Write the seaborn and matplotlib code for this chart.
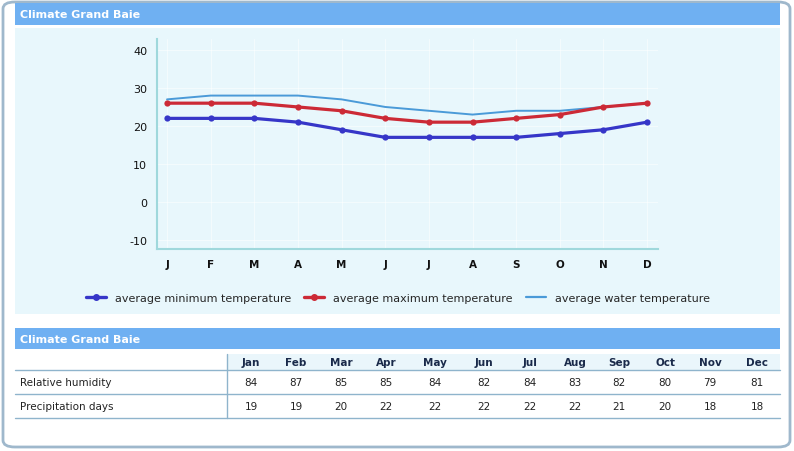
import matplotlib
matplotlib.use('Agg')
import matplotlib.pyplot as plt
from matplotlib.patches import Rectangle, FancyBboxPatch
from matplotlib.lines import Line2D
import pandas as pd
import seaborn as sns

month_letters = ['J', 'F', 'M', 'A', 'M', 'J', 'J', 'A', 'S', 'O', 'N', 'D']
month_names = ['Jan', 'Feb', 'Mar', 'Apr', 'May', 'Jun', 'Jul', 'Aug', 'Sep', 'Oct', 'Nov', 'Dec']
temp_min = [22, 22, 22, 21, 19, 17, 17, 17, 17, 18, 19, 21]
temp_max = [26, 26, 26, 25, 24, 22, 21, 21, 22, 23, 25, 26]
temp_water = [27, 28, 28, 28, 27, 25, 24, 23, 24, 24, 25, 26]
humidity = [84, 87, 85, 85, 84, 82, 84, 83, 82, 80, 79, 81]
precip_days = [19, 19, 20, 22, 22, 22, 22, 22, 21, 20, 18, 18]
y_ticks = [-10, 0, 10, 20, 30, 40]

title = 'Climate Grand Baie'
series_labels = ['average minimum temperature', 'average maximum temperature',
                 'average water temperature']
row_labels = ['Relative humidity', 'Precipitation days']

W, H = 794, 452
BLUE_HEAD = '#6fb0f2'
PANEL = '#e8f7fc'
LINE_COL = '#8fb4cc'

sns.set_style('white')
plt.rcParams['font.family'] = ['DejaVu Sans']

fig = plt.figure(figsize=(W / 100, H / 100), dpi=100)
fig.patch.set_facecolor('white')


def fx(x):
    return x / W


def fy(y):
    return 1 - y / H


def rect(x0, y0, x1, y1, **kw):
    fig.patches.append(Rectangle((fx(x0), fy(y1)), fx(x1 - x0), (y1 - y0) / H,
                                 transform=fig.transFigure, zorder=-2, **kw))


def hline(y, x0, x1, **kw):
    fig.lines.append(Line2D([fx(x0), fx(x1)], [fy(y), fy(y)],
                            transform=fig.transFigure, **kw))


# outer frame
fig.patches.append(FancyBboxPatch((fx(3), fy(448)), fx(787), 445 / H,
                                  boxstyle='round,pad=0,rounding_size=0.015',
                                  transform=fig.transFigure, facecolor='white',
                                  edgecolor='#9fb8cc', linewidth=2, zorder=-3))

# header bars
rect(15, 4, 780, 26, facecolor=BLUE_HEAD, edgecolor='none')
fig.text(fx(20), fy(15), title, color='white', fontsize=8, fontweight='bold', va='center')
rect(15, 329, 780, 350, facecolor=BLUE_HEAD, edgecolor='none')
fig.text(fx(20), fy(340), title, color='white', fontsize=8, fontweight='bold', va='center')

# chart panel
rect(15, 29, 780, 315, facecolor=PANEL, edgecolor='none')

ax = fig.add_axes([fx(157), fy(250), fx(658 - 157), (250 - 40) / H])
ax.set_zorder(5)
ax.set_facecolor(PANEL)

df = pd.DataFrame({'month': list(range(12)), 'min': temp_min,
                   'max': temp_max, 'water': temp_water})
sns.lineplot(data=df, x='month', y='water', ax=ax, color='#4a9ad8', linewidth=1.4)
sns.lineplot(data=df, x='month', y='max', ax=ax, color='#cc2a36', linewidth=2.3,
             marker='o', markersize=4.5, markeredgewidth=0)
sns.lineplot(data=df, x='month', y='min', ax=ax, color='#3636c8', linewidth=2.3,
             marker='o', markersize=4.5, markeredgewidth=0)

ax.set_xlim(-0.23, 11.25)
ax.set_ylim(-12.4, 42.9)
ax.set_xticks(range(12))
ax.set_xticklabels(month_letters, fontweight='bold', fontsize=7.5)
ax.set_yticks(y_ticks)
ax.set_yticklabels([str(v) for v in y_ticks], fontsize=8)
ax.set_xlabel('')
ax.set_ylabel('')
ax.tick_params(length=0, pad=7, colors='#111111')
ax.tick_params(axis='x', pad=7)
ax.grid(True, color='white', linewidth=0.8, alpha=0.5)
for side in ['top', 'right']:
    ax.spines[side].set_visible(False)
for side in ['left', 'bottom']:
    ax.spines[side].set_color('#9fd8dc')
    ax.spines[side].set_linewidth(1.5)

handles = [
    Line2D([], [], color='#3636c8', linewidth=2.4, marker='o', markersize=4),
    Line2D([], [], color='#cc2a36', linewidth=2.4, marker='o', markersize=4),
    Line2D([], [], color='#4a9ad8', linewidth=1.6),
]
fig.legend(handles, series_labels, loc='center', bbox_to_anchor=(fx(398), fy(299)),
           ncol=3, frameon=False, fontsize=8, handlelength=1.8, columnspacing=1.2,
           handletextpad=0.8)

# table
rect(227, 355, 780, 371, facecolor='#eaf6fb', edgecolor='none')
col_x = [251, 296, 341, 386, 435, 484, 530, 575, 619, 665, 710, 757]
for x, name in zip(col_x, month_names):
    fig.text(fx(x), fy(363), name, ha='center', va='center', fontsize=7.5,
             fontweight='bold', color='#1a2a4a')
for y in [371, 395, 419]:
    hline(y, 15, 780, color=LINE_COL, linewidth=1)
fig.lines.append(Line2D([fx(227), fx(227)], [fy(355), fy(419)],
                        transform=fig.transFigure, color=LINE_COL, linewidth=1))
for row_y, label, values in [(383, row_labels[0], humidity), (407, row_labels[1], precip_days)]:
    fig.text(fx(20), fy(row_y), label, va='center', fontsize=7.5, color='#222222')
    for x, v in zip(col_x, values):
        fig.text(fx(x), fy(row_y), str(v), ha='center', va='center',
                 fontsize=7.5, color='#222222')

fig.savefig('out.png', dpi=100)
